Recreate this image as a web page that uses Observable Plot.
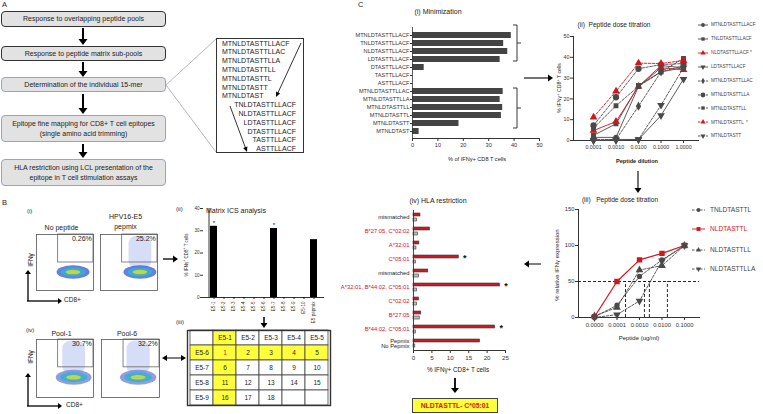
<!DOCTYPE html>
<html><head><meta charset="utf-8">
<script src="https://cdn.jsdelivr.net/npm/d3@7"></script>
<script src="https://cdn.jsdelivr.net/npm/@observablehq/plot@0.6"></script>
<style>
html,body{margin:0;padding:0;background:#fff;}
#fig{position:relative;width:763px;height:414px;overflow:hidden;font-family:"Liberation Sans",Arial,sans-serif;color:#222;}
.t{position:absolute;white-space:nowrap;line-height:1;}
.box{position:absolute;box-sizing:border-box;border-radius:4px;background:#e2e2e2;display:flex;align-items:center;justify-content:center;text-align:center;font-size:7px;line-height:1.35;color:#222;}
</style></head><body><div id="fig"></div>
<script>
// ---------------- DATA ----------------
// Panel A
const flowSteps = ["Response to overlapping peptide pools", "Response to peptide matrix sub-pools", "Determination of the individual 15-mer", "Epitope fine mapping for CD8+ T cell epitopes<br>(single amino acid trimming)", "HLA restriction using LCL presentation of the<br>epitope in T cell stimulation assays"];
const trimmedPeptides = ["MTNLDTASTTLLACF","MTNLDTASTTLLAC","MTNLDTASTTLLA","MTNLDTASTTLL","MTNLDTASTTL","MTNLDTASTT","MTNLDTAST","TNLDTASTTLLACF","NLDTASTTLLACF","LDTASTTLLACF","DTASTTLLACF","TASTTLLACF","ASTTLLACF"];
// Panel B (i)/(iv) flow cytometry
const flowTitles = ["No peptide", "HPV16-E5<br>pepmix", "Pool-1", "Pool-6"];
const flowPercents = ["0.26%", "25.2%", "30.7%", "32.2%"];
const flowCoreX = [65, 70, 66, 64];        // CD8+ population centre (% of axis)
const flowCoreY = [32, 32, 34, 34];        // IFNγ- population centre
const flowActivated = [false, true, true, true];
// Panel B (ii)
const matrixPools = ["E5-1","E5-2","E5-3","E5-4","E5-5","E5-6","E5-7","E5-8","E5-9","E5-10","E5 pepmix"];
const matrixValues = [32, 0, 0, 0, 0, 0, 31, 0, 0, 0, 26];
const matrixSignificant = ["E5-1", "E5-7"];
// Panel B (iii)
const matrixCols = ["E5-1","E5-2","E5-3","E5-4","E5-5"];
const matrixRows = ["E5-6","E5-7","E5-8","E5-9"];
const matrixNumbers = [[1,2,3,4,5],[6,7,8,9,10],[11,12,13,14,15],[16,17,18,null,null]];
const positiveCol = "E5-1", positiveRow = "E5-6";
// Panel C (i)
const minPeptides = ["MTNLDTASTTLLACF","TNLDTASTTLLACF","NLDTASTTLLACF","LDTASTTLLACF","DTASTTLLACF","TASTTLLACF","ASTTLLACF","MTNLDTASTTLLAC","MTNLDTASTTLLA","MTNLDTASTTLL","MTNLDTASTTL","MTNLDTASTT","MTNLDTAST"];
const minValues = [38.9, 35.9, 37.5, 34.5, 4.6, 0, 0, 35.7, 34.5, 35.5, 35.0, 18.3, 2.6];
// Panel C (ii)
const dilutions = [0.0001, 0.001, 0.01, 0.1, 1];
const titrationSeries = ["MTNLDTASTTLLACF","TNLDTASTTLLACF","NLDTASTTLLACF","LDTASTTLLACF","MTNLDTASTTLLAC","MTNLDTASTTLLA","MTNLDTASTTLL","MTNLDTASTTL","MTNLDTASTT"];
const titrationValues = [
  [1.5, 1.5, 26, 36, 35],
  [2.5, 8, 26.5, 33, 35],
  [4.8, 9.1, 26, 35, 34],
  [0, 0.5, 0.5, 12, 29.5],
  [0.5, 0.5, 16.5, 33, 36],
  [7.2, 20.8, 34.5, 36.5, 37],
  [6, 16.7, 26, 33, 39.5],
  [11.2, 23.7, 37.2, 37, 38.5],
  [0, 0, 0.5, 17, 35]
];
// Panel C (iii)
const doseLabels = ["0.0000","0.0001","0.0010","0.0100","0.1000"];
const relSeries = ["TNLDTASTTL","NLDTASTTL","NLDTASTTLL","NLDTASTTLLA"];
const relValues = [
  [1, 17, 57, 80, 100],
  [1, 50, 80, 89, 100],
  [2, 14, 66, 72, 100],
  [0, 4, 23, 79, 100]
];
const ec50Index = [1.38, 2.22, 2.44, 3.24];
// Panel C (iv)
const hlaGroups = ["mismatched","B*27:05, C*02:02","A*32:01","C*05:01","mismatched","A*32:01, B*44:02, C*05:01","C*02:02","B*27:05","B*44:02, C*05:01"];
const hlaMatched = [false, true, true, true, false, true, true, true, true];
const hlaPeptide = [1.9, 4.5, 1.6, 12.3, 4.0, 23.5, 1.5, 2.1, 22.2];
const hlaNoPeptide = [1.0, 1.2, 0.8, 0.7, 1.5, 1.0, 1.0, 1.7, 0.7];
const hlaSignificant = [false, false, false, true, false, true, false, false, true];
const controlLabels = ["Pepmix", "No Pepmix"];
const controlValues = [18.1, 0.5];
const resultText = "NLDTASTTL- C*05:01";

// ---------------- HELPERS ----------------
const fig = document.getElementById("fig");
const NARROW = '"Liberation Sans Narrow","Liberation Sans",Arial,sans-serif';
const SANS = '"Liberation Sans",Arial,sans-serif';
const RED = "#d0161e", GREY = "#4a4a4a";
function put(node, left, top) { node.style.position = "absolute"; node.style.left = left + "px"; node.style.top = top + "px"; fig.appendChild(node); return node; }
function txt(s, x, y, o = {}) {
  const d = document.createElement("div");
  d.className = "t"; d.innerHTML = s;
  d.style.left = x + "px"; d.style.top = y + "px";
  d.style.fontSize = (o.size || 7) + "px";
  if (o.weight) d.style.fontWeight = o.weight;
  if (o.color) d.style.color = o.color;
  if (o.family) d.style.fontFamily = o.family;
  if (o.align) d.style.textAlign = o.align;
  if (o.lh) d.style.lineHeight = o.lh;
  if (o.ls) d.style.letterSpacing = o.ls;
  const ax = o.anchor === "start" ? "0" : o.anchor === "end" ? "-100%" : "-50%";
  d.style.transform = `translate(${ax},-50%)` + (o.rotate ? ` rotate(${o.rotate}deg)` : "");
  fig.appendChild(d); return d;
}
const plotStyle = (size, family = NARROW) => ({background: "none", fontFamily: family, fontSize: size + "px", color: "#333", overflow: "visible"});
const triangleDown = {draw(ctx, size) { const y = -Math.sqrt(size / (Math.sqrt(3) * 3)); const s3 = Math.sqrt(3); ctx.moveTo(0, -y * 2); ctx.lineTo(-s3 * y, y); ctx.lineTo(s3 * y, y); ctx.closePath(); }};

// ---------------- PANEL A ----------------
txt("A", 2, 5, {size: 7.5, anchor: "start"});
const boxGeom = [[11, 16, "#333"], [46, 15, "#333"], [77, 15, "#8ea7c9"], [115, 27, "#8ea7c9"], [159, 27, "#8ea7c9"]];
flowSteps.forEach((s, i) => {
  const b = document.createElement("div"); b.className = "box"; b.innerHTML = s;
  b.style.width = "165px"; b.style.height = boxGeom[i][1] + "px"; b.style.border = "1px solid " + boxGeom[i][2];
  put(b, 1, boxGeom[i][0]);
});
const pepBox = document.createElement("div");
pepBox.style.cssText = "box-sizing:border-box;width:88px;height:115px;border:1.2px solid #333;background:#fff";
put(pepBox, 216, 38);
trimmedPeptides.forEach((p, i) => {
  const y = 42.5 + i * 8.8;
  if (i < 7) txt(p, 222, y, {size: 7, anchor: "start"});
  else txt(p, 296, y, {size: 7, anchor: "end"});
});

// ---------------- PANEL B ----------------
txt("B", 2, 203, {size: 7.5, anchor: "start"});
txt("(i)", 27, 211, {size: 6, anchor: "start"});
txt("(iv)", 26, 330, {size: 6, anchor: "start"});
const flowPos = [[36, 234, 57, 56], [100, 234, 57, 56], [36, 339, 57, 58], [101, 339, 58, 58]];
flowTitles.forEach((t, i) => {
  const [l, tp, w, h] = flowPos[i];
  txt(t, l + w / 2 - 3, i === 1 ? 222 : (i === 0 ? 228 : 334), {size: 7, align: "center", lh: "1.4"});
  const core = [{x: flowCoreX[i], y: flowCoreY[i]}];
  const sc = i < 2 ? 1 : 1.08;
  const layers = [[58 * sc, 24 * sc, i < 2 ? "#4060d8" : "#7484da", 0.8], [44 * sc, 16 * sc, "#35b3cc", 0.85], [26, 8, "#c6d93c", 0.95]];
  const marks = [];
  if (flowActivated[i]) marks.push(Plot.rect([{x: flowCoreX[i], y: flowCoreY[i]}], {x1: d => d.x - 20, x2: d => d.x + 20, y1: d => d.y + 6, y2: 97, fill: "#8a9ee8", fillOpacity: 0.35, rx: 8}));
  layers.forEach(([lw, lh, c, op]) => marks.push(Plot.rect(core, {x1: d => d.x - lw / 2, x2: d => d.x + lw / 2, y1: d => d.y - lh / 2, y2: d => d.y + lh / 2, fill: c, fillOpacity: op, rx: lw / 2 * w / 100, ry: lh / 2 * h / 100})));
  marks.push(Plot.rect([{}], {x1: 38, x2: 100, y1: i < 2 ? 50 : 52, y2: 100, stroke: "#666", strokeWidth: 0.8, fill: "none"}));
  marks.push(Plot.text([flowPercents[i]], {x: 97, y: 92, text: d => d, textAnchor: "end", fontSize: 7, fill: "#222"}));
  marks.push(Plot.frame({stroke: "#555", strokeWidth: 0.8}));
  put(Plot.plot({width: w, height: h, margin: 0, x: {domain: [0, 100], axis: null}, y: {domain: [0, 100], axis: null}, style: plotStyle(7, SANS), marks}), l, tp);
});
txt("IFNγ", 31, 260, {size: 6.5, rotate: -90});
txt("CD8+", 64, 300, {size: 6.5, anchor: "start"});
txt("IFNγ", 31, 357, {size: 6.5, rotate: -90});
txt("CD8+", 66, 405, {size: 6.5, anchor: "start"});

// B(ii) matrix ICS
txt("(ii)", 176, 209, {size: 6, anchor: "start"});
txt("Matrix ICS analysis", 206, 210, {size: 7, anchor: "start"});
txt("% IFNγ<sup style='font-size:3.5px'>+</sup> CD8<sup style='font-size:3.5px'>+</sup> T cells", 186, 255, {size: 4.5, rotate: -90, family: NARROW});
const matrixData = matrixPools.map((p, i) => ({pool: p, value: matrixValues[i]}));
put(Plot.plot({
  width: 159, height: 122, marginLeft: 33, marginRight: 5, marginTop: 8, marginBottom: 25,
  style: plotStyle(4.6),
  x: {domain: matrixPools, padding: 0.3, label: null, tickRotate: -90, tickSize: 2, tickPadding: 2},
  y: {domain: [0, 40], ticks: [0, 10, 20, 30, 40], label: null, tickSize: 3, tickPadding: 1},
  marks: [
    Plot.barY(matrixData, {x: "pool", y: "value", fill: "#000"}),
    Plot.ruleY([0], {stroke: "#000", strokeWidth: 0.8}),
    Plot.ruleX([0], {x: () => matrixPools[0], dx: -5, stroke: "#000", strokeWidth: 0.8}),
    Plot.text(matrixData.filter(d => matrixSignificant.includes(d.pool)), {x: "pool", y: "value", text: () => "*", dy: -3, fontSize: 6, fill: "#000"})
  ]
}), 170, 200);

// B(iii) table
txt("(iii)", 176, 322, {size: 6, anchor: "start"});
const colKeys = ["", ...matrixCols], rowKeys = ["", ...matrixRows];
const cells = [];
rowKeys.forEach((r, ri) => colKeys.forEach((c, ci) => {
  let label = ri === 0 ? c : ci === 0 ? r : matrixNumbers[ri - 1][ci - 1];
  const hi = c === positiveCol || r === positiveRow;
  cells.push({cx: "c" + ci, cy: "r" + ri, label: label == null ? "" : String(label), fill: hi && !(ri === 0 && ci === 0) ? "#ffff3c" : "#fff", color: c === positiveCol && r === positiveRow ? RED : "#222"});
}));
put(Plot.plot({
  width: 143, height: 75, margin: 0, style: plotStyle(6.5, SANS),
  x: {domain: colKeys.map((_, i) => "c" + i), padding: 0, axis: null},
  y: {domain: rowKeys.map((_, i) => "r" + i), padding: 0, axis: null},
  marks: [
    Plot.cell(cells, {x: "cx", y: "cy", fill: "fill", stroke: "#444", strokeWidth: 0.8, inset: 0}),
    Plot.text(cells, {x: "cx", y: "cy", text: "label", fill: "color", fontSize: 6.5}),
    Plot.frame({stroke: "#333", strokeWidth: 1.4})
  ]
}), 187, 330);

// ---------------- PANEL C ----------------
txt("C", 358, 5, {size: 7.5, anchor: "start"});
txt("(i) Minimization", 438, 11, {size: 7});
const minData = minPeptides.map((p, i) => ({peptide: p, value: minValues[i]}));
put(Plot.plot({
  width: 199, height: 151, marginLeft: 62, marginRight: 10, marginTop: 10, marginBottom: 30,
  style: plotStyle(5.6),
  x: {domain: [0, 50], ticks: [0, 10, 20, 30, 40, 50], label: null, tickSize: 3, tickPadding: 2, line: true},
  y: {domain: minPeptides, padding: 0.28, label: null, tickSize: 2, tickPadding: 1},
  marks: [Plot.barX(minData, {y: "peptide", x: "value", fill: "#444"}), Plot.ruleX([0], {strokeWidth: 0.8})]
}), 350, 17);
txt("% of IFNγ+ CD8 T cells", 477, 160, {size: 5.6, family: NARROW});

// C(ii)
txt("(ii) &nbsp;Peptide dose titration", 614, 25, {size: 6.6});
txt("% IFNγ<sup style='font-size:4px'>+</sup> CD8<sup style='font-size:4px'>+</sup> T cells", 559, 88, {size: 5.2, rotate: -90, family: NARROW});
txt("Peptide dilution", 637, 162, {size: 5.6, weight: "bold", family: NARROW});
const titStyle = {
  "MTNLDTASTTLLACF": {c: GREY, dash: null, sym: "circle"},
  "TNLDTASTTLLACF": {c: GREY, dash: null, sym: "square"},
  "NLDTASTTLLACF": {c: RED, dash: null, sym: "triangle"},
  "LDTASTTLLACF": {c: GREY, dash: null, sym: "down"},
  "MTNLDTASTTLLAC": {c: GREY, dash: "2.5,1.5", sym: "diamond"},
  "MTNLDTASTTLLA": {c: GREY, dash: "2.5,1.5", sym: "circle", r: 2.4},
  "MTNLDTASTTLL": {c: GREY, dash: "2.5,1.5", sym: "square"},
  "MTNLDTASTTL": {c: RED, dash: "2.5,1.5", sym: "triangle"},
  "MTNLDTASTT": {c: GREY, dash: "2.5,1.5", sym: "down"}
};
const titMarks = [];
titrationSeries.forEach((s, i) => {
  const rows = dilutions.map((d, j) => ({dose: d, value: titrationValues[i][j]}));
  const st = titStyle[s];
  titMarks.push(Plot.line(rows, {x: "dose", y: "value", stroke: st.c, strokeWidth: 0.9, strokeDasharray: st.dash || undefined}));
  titMarks.push(Plot.dot(rows, {x: "dose", y: "value", fill: st.c, stroke: st.c, r: st.r || 1.9, symbol: st.sym === "down" ? triangleDown : st.sym}));
});
put(Plot.plot({
  width: 173, height: 145, marginLeft: 43, marginRight: 5, marginTop: 11, marginBottom: 30,
  style: plotStyle(5.3),
  x: {type: "log", domain: [1.29e-5, 4.64], ticks: dilutions, tickFormat: d3.format(".4f"), label: null, tickSize: 3, tickPadding: 2, line: true},
  y: {domain: [0, 50], ticks: [0, 10, 20, 30, 40, 50], label: null, tickSize: 3, tickPadding: 1, line: true},
  marks: titMarks
}), 530, 25);
function icon(st, w = 14) {
  const sym = st.sym === "down" ? d3.symbolTriangle : {circle: d3.symbolCircle, square: d3.symbolSquare, triangle: d3.symbolTriangle, diamond: d3.symbolDiamond}[st.sym];
  const path = d3.symbol(sym, (st.r || 1.9) ** 2 * Math.PI)();
  return `<svg width="${w}" height="8" style="vertical-align:middle"><line x1="0" x2="${w}" y1="4" y2="4" stroke="${st.c}" stroke-width="0.9" ${st.dash ? `stroke-dasharray="${st.dash}"` : ""}/><path d="${path}" transform="translate(${w / 2},4)${st.sym === "down" ? " rotate(180)" : ""}" fill="${st.c}"/></svg>`;
}
const titLegendText = {"NLDTASTTLLACF": `<span style="color:${RED}">N</span>LDTASTTLLACF *`, "MTNLDTASTTL": `MTNLDTASTT<span style="color:${RED}">L</span> &nbsp;*`};
titrationSeries.forEach((s, i) => {
  txt(icon(titStyle[s], 10) + `<span style="margin-left:3px">${titLegendText[s] || s}</span>`, 698, 25 + i * 13.9, {size: 4.7, anchor: "start", family: NARROW, color: "#444", ls: "-0.05px"});
});

// C(iii)
txt("(iii) &nbsp;&nbsp;Peptide dose titration", 620, 200, {size: 6.6});
txt("% relative IFNγ expression", 557, 265, {size: 6, rotate: -90});
txt("Peptide (ug/ml)", 639, 338, {size: 6});
const relStyle = {
  "TNLDTASTTL": {c: GREY, dash: "2.5,1.5", sym: "circle"},
  "NLDTASTTL": {c: RED, dash: null, sym: "square", r: 2.2},
  "NLDTASTTLL": {c: GREY, dash: "2.5,1.5", sym: "triangle"},
  "NLDTASTTLLA": {c: GREY, dash: "2.5,1.5", sym: "down"}
};
const relMarks = [
  Plot.ruleY([50], {stroke: "#111", strokeWidth: 0.9, strokeDasharray: "3,2"}),
  Plot.ruleX(ec50Index, {y1: 0, y2: 50, stroke: "#111", strokeWidth: 0.9, strokeDasharray: "3,2"})
];
relSeries.forEach((s, i) => {
  const rows = doseLabels.map((d, j) => ({dose: j, value: relValues[i][j]}));
  const st = relStyle[s];
  relMarks.push(Plot.line(rows, {x: "dose", y: "value", stroke: st.c, strokeWidth: st.dash ? 0.9 : 1.2, strokeDasharray: st.dash || undefined}));
  relMarks.push(Plot.dot(rows, {x: "dose", y: "value", fill: st.c, stroke: st.c, r: st.r || 1.9, symbol: st.sym === "down" ? triangleDown : st.sym}));
});
put(Plot.plot({
  width: 174, height: 145, marginLeft: 48, marginRight: 5, marginTop: 9, marginBottom: 28,
  style: plotStyle(5.8),
  x: {domain: [-0.711, 4.667], ticks: [0, 1, 2, 3, 4], tickFormat: i => doseLabels[i], label: null, tickSize: 3, tickPadding: 2, line: true},
  y: {domain: [0, 150], ticks: [0, 50, 100, 150], label: null, tickSize: 3, tickPadding: 1, line: true},
  marks: relMarks
}), 530, 200);
relSeries.forEach((s, i) => {
  const st = relStyle[s];
  txt(icon(st, 13) + `<span style="margin-left:5px;color:${st.c === RED ? RED : "#444"}">${s}</span>`, 692, [210, 229, 250, 269][i], {size: 6.6, anchor: "start", family: NARROW});
});

// C(iv)
txt("(iv) HLA restriction", 438, 200, {size: 7});
txt("% IFNγ+ CD8+ T cells", 458, 370, {size: 6.3});
const ids = [...hlaGroups.map((_, i) => "g" + i), "ctl"];
const hlaBars = [], hlaLabels = [], hlaStars = [];
hlaGroups.forEach((g, i) => {
  hlaBars.push({id: "g" + i, kind: "p", value: hlaPeptide[i], fill: RED});
  hlaBars.push({id: "g" + i, kind: "n", value: hlaNoPeptide[i], fill: "#bdbdbd"});
  hlaLabels.push({id: "g" + i, label: g, color: hlaMatched[i] ? RED : "#222"});
  if (hlaSignificant[i]) hlaStars.push({id: "g" + i, kind: "p", value: hlaPeptide[i]});
});
const ctlRows = controlLabels.map((l, i) => ({id: "ctl", kind: i === 0 ? "p" : "n", value: controlValues[i], label: l, fill: i === 0 ? RED : "#bdbdbd"}));
put(Plot.plot({
  width: 217, height: 178, marginLeft: 113, marginRight: 12, marginTop: 10, marginBottom: 28,
  style: plotStyle(6.2, SANS),
  fy: {domain: ids, padding: 0, axis: null, label: null},
  y: {domain: ["p", "n"], paddingInner: 0.45, paddingOuter: 0.4, axis: null},
  x: {domain: [0, 25], ticks: [0, 5, 10, 15, 20, 25], label: null, tickSize: 3, tickPadding: 2, line: true},
  marks: [
    Plot.barX([...hlaBars, ...ctlRows], {fy: "id", y: "kind", x: "value", fill: "fill", stroke: "#3a3a3a", strokeWidth: 0.6}),
    Plot.ruleX([0], {strokeWidth: 0.9}),
    Plot.text(hlaLabels, {fy: "id", frameAnchor: "left", dx: -4, textAnchor: "end", text: "label", fill: "color", fontSize: 5.8}),
    Plot.text(ctlRows, {fy: "id", y: "kind", frameAnchor: "left", dx: -4, textAnchor: "end", text: "label", fill: "#222", fontSize: 5.8}),
    Plot.text(hlaStars, {fy: "id", y: "kind", x: "value", dx: 6, dy: 1.5, text: () => "*", fontSize: 9, fontWeight: "bold", fill: "#111"})
  ]
}), 300, 200);
const res = document.createElement("div");
res.style.cssText = `box-sizing:border-box;width:86px;height:15px;border:1px solid #444;background:#ffff3c;color:${RED};font-weight:bold;font-size:6.8px;display:flex;align-items:center;justify-content:center;font-family:${SANS}`;
res.textContent = resultText;
put(res, 412, 398);

// ---------------- ARROWS / CONNECTORS ----------------
function arrow(x1, y1, x2, y2, sw = 1, hl = 5, hw = 3) {
  const a = Math.atan2(y2 - y1, x2 - x1), c = Math.cos(a), s = Math.sin(a);
  const bx = x2 - hl * c, by = y2 - hl * s;
  return `<line x1="${x1}" y1="${y1}" x2="${bx + c}" y2="${by + s}" stroke="#000" stroke-width="${sw}"/>` +
    `<polygon points="${x2},${y2} ${bx - hw * s},${by + hw * c} ${bx + hw * s},${by - hw * c}" fill="#000"/>`;
}
let g = "";
[[27, 45], [61, 77], [93, 114], [143, 158]].forEach(([a, b]) => g += arrow(83, a + 1, 83, b, 2, 6, 4.5));
g += `<line x1="166" y1="85" x2="216" y2="39" stroke="#999" stroke-width="0.7"/><line x1="166" y1="85" x2="216" y2="152" stroke="#999" stroke-width="0.7"/>`;
g += arrow(301, 43, 276, 97, 0.8, 5, 2.2) + arrow(230, 106, 247, 152, 0.8, 5, 2.2);
g += arrow(163, 259, 178, 259, 1.3, 5, 3.5);
g += arrow(264, 317, 264, 328, 1.5, 5, 3.5);
g += arrow(174, 358, 186, 358, 1, 5, 3) + arrow(174, 358, 162, 358, 1, 5, 3);
g += arrow(28, 301, 28, 270, 1.3, 4, 3) + arrow(27, 301, 62, 301, 1.3, 4, 3);
g += arrow(28, 406, 28, 373, 1.3, 4, 3) + arrow(27, 406, 62, 406, 1.3, 4, 3);
g += arrow(524, 78, 553, 78, 1.1, 5, 3.5);
g += arrow(638, 171, 638, 193, 1.1, 5, 3.5);
g += arrow(541, 264, 524, 264, 1, 5, 3.5);
g += arrow(455, 378, 455, 393, 1.8, 5, 4);
[[25, 61], [88, 128]].forEach(([a, b]) => {
  g += `<path d="M513,${a} H517 V${b} H513 M517,${(a + b) / 2} H521" fill="none" stroke="#222" stroke-width="0.9"/>`;
});
const ov = document.createElementNS("http://www.w3.org/2000/svg", "svg");
ov.setAttribute("width", 763); ov.setAttribute("height", 414);
ov.style.pointerEvents = "none";
ov.innerHTML = g;
put(ov, 0, 0);
</script></body></html>
